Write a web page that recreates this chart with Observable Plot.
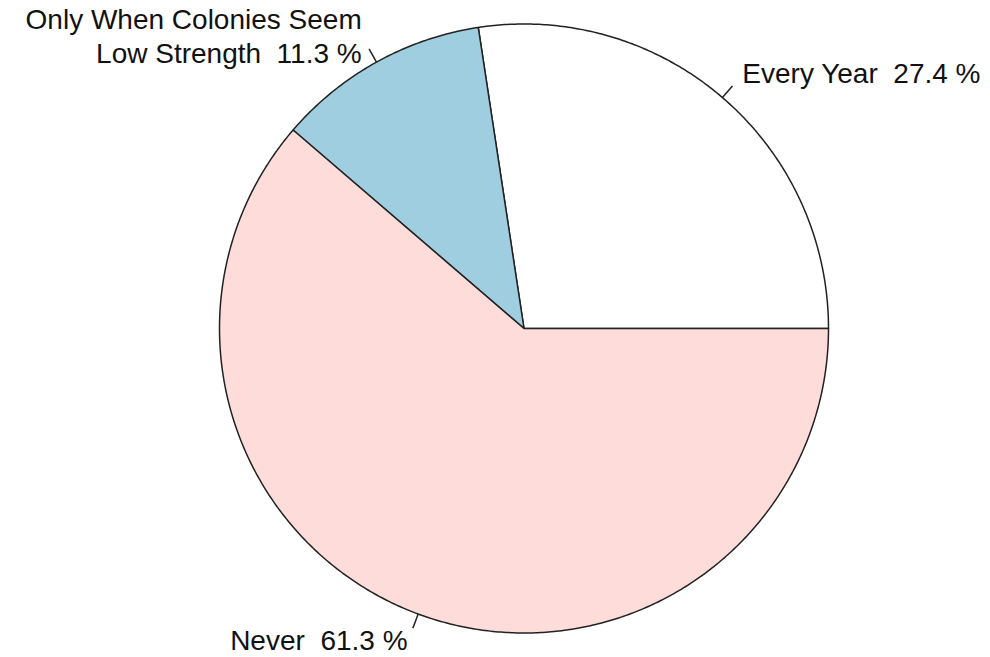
<!DOCTYPE html>
<html>
<head>
<meta charset="utf-8">
<script src="https://cdn.jsdelivr.net/npm/d3@7"></script>
<script src="https://cdn.jsdelivr.net/npm/@observablehq/plot@0.6"></script>
<style>
  html, body { margin: 0; padding: 0; background: #ffffff; }
  #chart svg { display: block; }
</style>
</head>
<body>
<div id="chart"></div>
<script>
// Survey answers and their shares (percent)
const categories = ["Every Year", "Only When Colonies Seem\nLow Strength", "Never"];
const percents = [27.4, 11.3, 61.3];
const sliceColors = ["#ffffff", "#9fcee0", "#fddcda"];

// Pie starts at 3 o'clock and runs counter-clockwise
const total = d3.sum(percents);
let start = 0;
const slices = percents.map((p, i) => {
  const a0 = start;
  const a1 = start + (p / total) * 2 * Math.PI;
  start = a1;
  return {i, name: categories[i], pct: p, a0, a1, mid: (a0 + a1) / 2};
});

// Outline of each wedge: centre, then along the arc
const outline = [];
for (const s of slices) {
  outline.push({slice: s.i, x: 0, y: 0});
  const n = Math.max(4, Math.ceil((s.a1 - s.a0) / (Math.PI / 360)));
  for (let k = 0; k <= n; ++k) {
    const a = s.a0 + (s.a1 - s.a0) * (k / n);
    outline.push({slice: s.i, x: Math.cos(a), y: Math.sin(a)});
  }
}

// Short tick from the rim and the label just outside it
const ticks = slices.map(s => ({
  x1: Math.cos(s.mid), y1: Math.sin(s.mid),
  x2: 1.05 * Math.cos(s.mid), y2: 1.05 * Math.sin(s.mid)
}));
const labelData = slices.map(s => ({
  x: 1.1 * Math.cos(s.mid),
  y: 1.1 * Math.sin(s.mid),
  text: `${s.name}  ${s.pct} %`,
  anchor: Math.cos(s.mid) > 0 ? "start" : "end",
  multi: s.name.includes("\n")
}));

const W = 990, H = 657, R = 304.5, CX = 523.5, CY = 328;
const textStyle = {lineAnchor: "middle", lineHeight: 1.2, fontSize: 28, fill: "#111111"};

const chart = Plot.plot({
  width: W,
  height: H,
  margin: 0,
  style: {background: "#ffffff", fontFamily: "'Liberation Sans', Arial, Helvetica, sans-serif"},
  x: {domain: [-CX / R, (W - CX) / R], range: [0, W], axis: null},
  y: {domain: [-(H - CY) / R, CY / R], range: [H, 0], axis: null},
  marks: [
    Plot.line(outline, {
      x: "x", y: "y", z: "slice",
      fill: d => sliceColors[d.slice],
      stroke: "#222222", strokeWidth: 1.5,
      curve: "linear-closed"
    }),
    Plot.link(ticks, {x1: "x1", y1: "y1", x2: "x2", y2: "y2", stroke: "#222222", strokeWidth: 1.5}),
    Plot.text(labelData.filter(d => d.anchor === "start"), {
      x: "x", y: "y", text: "text", textAnchor: "start", dy: -2, ...textStyle
    }),
    Plot.text(labelData.filter(d => d.anchor === "end" && d.multi), {
      x: "x", y: "y", text: "text", textAnchor: "end", ...textStyle
    }),
    Plot.text(labelData.filter(d => d.anchor === "end" && !d.multi), {
      x: "x", y: "y", text: "text", textAnchor: "end", dy: -3, ...textStyle
    })
  ]
});

document.getElementById("chart").appendChild(chart);
</script>
</body>
</html>
